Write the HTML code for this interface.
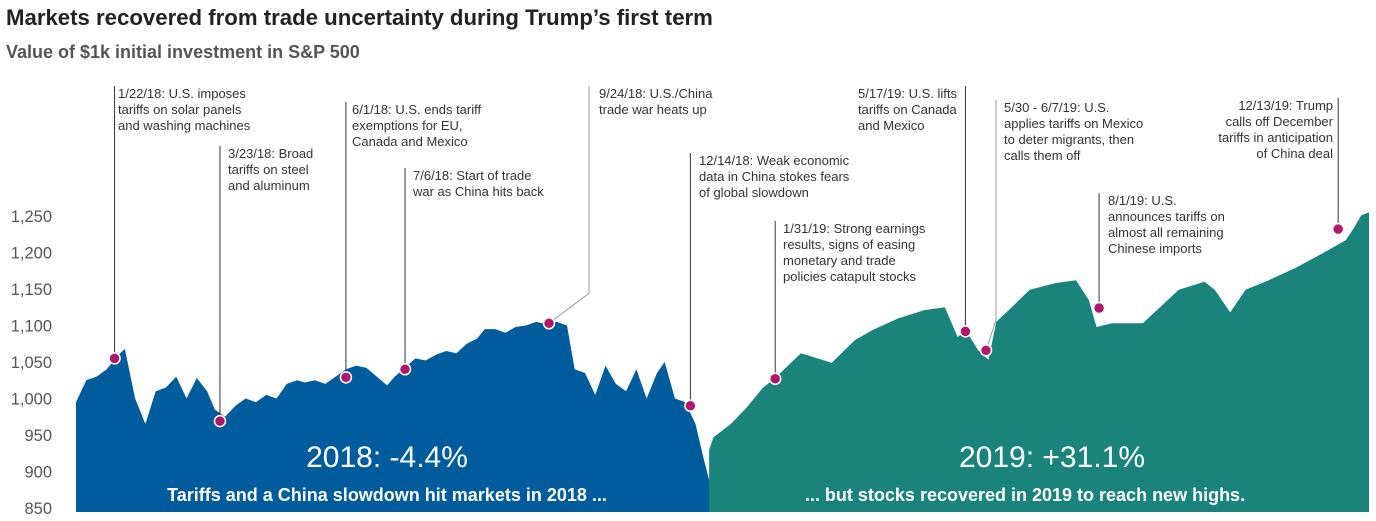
<!DOCTYPE html>
<html><head><meta charset="utf-8"><style>
body{margin:0;background:#fff;width:1376px;height:521px;overflow:hidden;font-family:"Liberation Sans",sans-serif}
svg{display:block}
</style></head><body>
<svg id="c" width="1376" height="521">
<text x="6" y="25" font-size="22.2" font-weight="bold" fill="#222">Markets recovered from trade uncertainty during Trump’s first term</text>
<text x="6" y="58" font-size="18" font-weight="bold" fill="#555">Value of $1k initial investment in S&amp;P 500</text>
<g id="yaxis"></g>
<g id="areas"></g>
<g id="ann"></g>
<g id="labels"></g>
</svg>
<script>
const yTicks=[850,900,950,1000,1050,1100,1150,1200,1250];
const days2018=[0,4,8,12,16,19,23,27,31,35,39,43,47,51,54,58,62,66,70,74,78,82,86,89,93,97,101,105,109,113,117,121,124,128,132,136,140,144,148,152,156,159,163,167,171,175,179,183,187,191,194,198,202,206,210,214,218,222,226,229,233,237,241,244,246.6];
const vals2018=[995,1025,1030,1040,1058,1068,1000,965,1010,1015,1030,1000,1028,1010,985,975,990,1000,995,1005,1000,1020,1025,1022,1025,1020,1030,1040,1045,1042,1030,1018,1030,1042,1055,1052,1060,1065,1062,1075,1082,1095,1095,1090,1098,1100,1105,1102,1105,1100,1040,1035,1005,1045,1020,1010,1040,1000,1035,1050,1000,995,965,920,884];
const days2019=[246.3,248,255,261,267,272,282,294,303,310,320,330,338,343,346,351,355,358,364,371,381,389,394,397,403,415,429,439,443,449,455,464,475,485,494,497,500,503];
const vals2019=[930,947,966,988,1014,1028,1062,1049,1080,1094,1110,1121,1125,1084,1094,1066,1053,1105,1125,1149,1158,1162,1135,1098,1103,1103,1149,1160,1149,1118,1149,1162,1180,1199,1217,1233,1251,1255];
const annDays=[15,56,105,128,184,239,272,346,354,398,491];
const annVals=[1055,969,1029,1040,1103,990,1027,1092,1066,1124,1232];
const annTexts=[
["1/22/18: U.S. imposes","tariffs on solar panels","and washing machines"],
["3/23/18: Broad","tariffs on steel","and aluminum"],
["6/1/18: U.S. ends tariff","exemptions for EU,","Canada and Mexico"],
["7/6/18: Start of trade","war as China hits back"],
["9/24/18: U.S./China","trade war heats up"],
["12/14/18: Weak economic","data in China stokes fears","of global slowdown"],
["1/31/19: Strong earnings","results, signs of easing","monetary and trade","policies catapult stocks"],
["5/17/19: U.S. lifts","tariffs on Canada","and Mexico"],
["5/30 - 6/7/19: U.S.","applies tariffs on Mexico","to deter migrants, then","calls them off"],
["8/1/19: U.S.","announces tariffs on","almost all remaining","Chinese imports"],
["12/13/19: Trump","calls off December","tariffs in anticipation","of China deal"]];
const annTextY=[98,158,114,180,98,165,233,98,112,205,110];
const annTextX=[118,228,352,413,599,699,783,858,1004,1108,1333];
const annAnchor=["start","start","start","start","start","start","start","start","start","start","end"];
const annLineX=[null,null,null,null,589,null,null,null,996,null,null];

const X0=76,X1=1369,D=503,Y0=508,YB=512;
const x=d=>X0+d/D*(X1-X0);
const y=v=>Y0-(v-850)*0.73;
const NS="http://www.w3.org/2000/svg";
function mk(t,a,p){const e=document.createElementNS(NS,t);for(const k in a)e.setAttribute(k,a[k]);p.appendChild(e);return e;}
const ya=document.getElementById('yaxis');
yTicks.forEach(v=>{const t=mk('text',{x:52,y:y(v)+6,'text-anchor':'end','font-size':16.5,fill:'#555'},ya);t.textContent=v.toLocaleString('en-US');

});
const ar=document.getElementById('areas');
function area(ds,vs,col,name){let d=`M${x(ds[0])},${YB}`;ds.forEach((dd,i)=>d+=` L${x(dd)},${y(vs[i])}`);d+=` L${x(ds[ds.length-1])},${YB}Z`;
const p=mk('path',{d:d,fill:col},ar);

}
area(days2018,vals2018,'#005c9c','area-2018');
area(days2019,vals2019,'#1a847c','area-2019');
const an=document.getElementById('ann');
annDays.forEach((d,i)=>{const px=x(d),py=y(annVals[i]);const top=annTextY[i]-12;
let pts;
if(annLineX[i]!==null){const lx=annLineX[i];pts=`${px},${py} ${lx},${py-Math.min(30,py-top)} ${lx},${top}`;}
else pts=`${px},${py} ${px},${top}`;
const l=mk('polyline',{points:pts,fill:'none',stroke:i==4||i==8?'#999':'#333','stroke-width':1},an);


const c=mk('circle',{cx:px,cy:py,r:5.5,fill:'#b0186b',stroke:'#fff','stroke-width':1.5},an);


const t=mk('text',{x:annTextX[i],y:annTextY[i],'font-size':13,fill:'#333','text-anchor':annAnchor[i]},an);


annTexts[i].forEach((s,j)=>{const ts=mk('tspan',{x:annTextX[i],dy:j?16:0},t);ts.textContent=s;});});
const lb=document.getElementById('labels');
[[387,467,30,'normal','2018: -4.4%','return-2018'],[1052,467,30,'normal','2019: +31.1%','return-2019'],
 [387,501,18,'bold','Tariffs and a China slowdown hit markets in 2018 ...','caption-2018'],[1025,501,18,'bold','... but stocks recovered in 2019 to reach new highs.','caption-2019']].forEach(a=>{
const t=mk('text',{x:a[0],y:a[1],'font-size':a[2],'font-weight':a[3],fill:'#fff','text-anchor':'middle'},lb);t.textContent=a[4];

});
</script>
</body></html>
